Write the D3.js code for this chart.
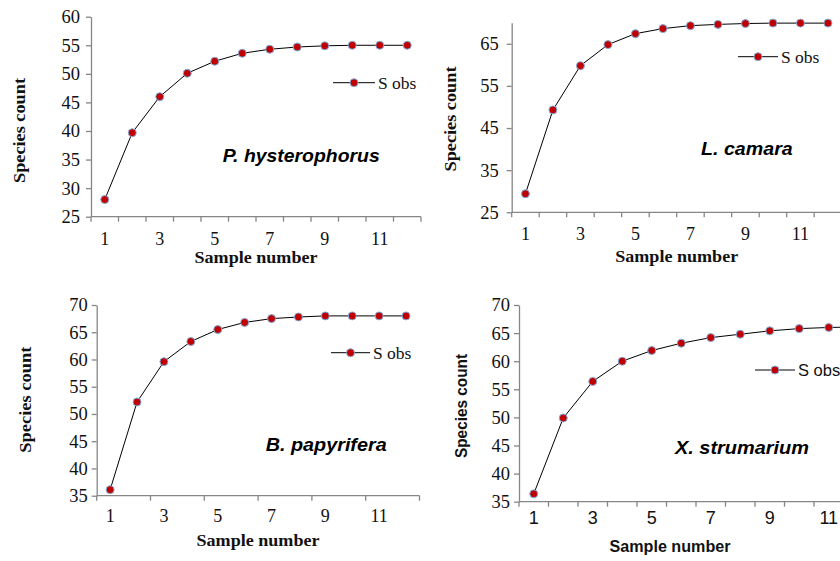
<!DOCTYPE html>
<html><head><meta charset="utf-8">
<script src="https://cdn.jsdelivr.net/npm/d3@7"></script>
<style>body{margin:0;background:#fff}svg{display:block}</style>
</head><body>
<svg id="c" width="840" height="561"></svg>
<script>
const samples = [1,2,3,4,5,6,7,8,9,10,11,12];
const xTickLabels = [1,3,5,7,9,11];
const hysterophorus = [28.0,39.7,46.0,50.1,52.2,53.6,54.3,54.7,54.9,55.0,55.0,55.0];
const camara = [29.4,49.3,59.8,64.8,67.4,68.6,69.3,69.6,69.8,69.9,69.9,69.9];
const papyrifera = [36.1,52.2,59.6,63.3,65.5,66.8,67.5,67.8,68.0,68.0,68.0,68.0];
const strumarium = [36.4,49.9,56.4,60.0,61.9,63.2,64.2,64.8,65.4,65.8,66.0,66.1];
const yTicks1 = [25,30,35,40,45,50,55,60];
const yTicks2 = [25,35,45,55,65];
const yTicks3 = [35,40,45,50,55,60,65,70];
const yTicks4 = [35,40,45,50,55,60,65,70];
const legendLabel = "S obs";
const xTitle = "Sample number";
const yTitle = "Species count";

const svg = d3.select("#c");
const SERIF = "'Liberation Serif','Times New Roman',serif";
const SANS = "'Liberation Sans',Arial,sans-serif";
const AX = "#868686";

function panel(o){
  const g = svg.append("g");
  const x = d3.scaleBand().domain(samples).range([o.x0, o.x0 + o.bw*samples.length]).padding(0);
  const y = d3.scaleLinear().domain(o.ydom).range([o.yb, o.yt]);
  // y axis
  const ya = g.append("g").attr("transform",`translate(${o.x0},0)`)
    .call(d3.axisLeft(y).tickValues(o.yticks).tickSize(5).tickSizeOuter(0).tickPadding(o.ypad));
  ya.select(".domain").attr("stroke",AX).attr("stroke-width",1.3);
  ya.selectAll(".tick line").attr("stroke",AX).attr("stroke-width",1.3);
  ya.selectAll(".tick text").attr("font-family",SERIF).attr("font-size",18.5).attr("fill","#111");
  // x axis line
  g.append("line").attr("x1",o.x0).attr("x2",o.x0+o.bw*samples.length)
    .attr("y1",o.yb).attr("y2",o.yb).attr("stroke",AX).attr("stroke-width",1.3);
  const bounds = samples.map(s=>x(s)).concat([x(12)+x.bandwidth()]);
  const tb = bounds.filter((b,i)=> i % (o.tickEvery||1) === 0);
  g.selectAll(".xt").data(tb).enter().append("line")
    .attr("x1",d=>d).attr("x2",d=>d).attr("y1",o.yb).attr("y2",o.yb+5)
    .attr("stroke",AX).attr("stroke-width",1.3);
  g.selectAll(".xl").data(xTickLabels).enter().append("text")
    .attr("x",d=>x(d)+x.bandwidth()/2).attr("y",o.xlY)
    .attr("text-anchor","middle").attr("font-family",o.xsans?SANS:SERIF)
    .attr("font-size",18).attr("fill","#111").text(d=>d);
  // titles
  g.append("text").attr("x",o.xtX).attr("y",o.xtY).attr("text-anchor","middle")
    .attr("font-family",o.xsans?SANS:SERIF).attr("font-weight","bold")
    .attr("font-size",o.xsans?16:17.5).attr("fill","#111")
    .attr("textLength",o.xtW).attr("lengthAdjust","spacingAndGlyphs").text(xTitle);
  g.append("text").attr("transform",`translate(${o.ytX},${o.ytY}) rotate(-90)`)
    .attr("text-anchor","middle").attr("font-family",o.ysans?SANS:SERIF).attr("font-weight","bold")
    .attr("font-size",17).attr("fill","#111")
    .attr("textLength",o.ytW).attr("lengthAdjust","spacingAndGlyphs").text(yTitle);
  // series
  const pts = samples.map((s,i)=>[x(s)+x.bandwidth()/2, y(o.values[i])]);
  g.append("path").attr("d",d3.line()(pts))
    .attr("fill","none").attr("stroke","#000").attr("stroke-width",1);
  g.selectAll(".pt").data(pts).enter().append("circle")
    .attr("cx",d=>d[0]).attr("cy",d=>d[1]).attr("r",4)
    .attr("fill","#c00000").attr("stroke","#7fb0e0").attr("stroke-width",1);
  // legend
  g.append("line").attr("x1",o.lg[0]).attr("x2",o.lg[1]).attr("y1",o.lg[2]).attr("y2",o.lg[2])
    .attr("stroke","#000").attr("stroke-width",1);
  g.append("circle").attr("cx",(o.lg[0]+o.lg[1])/2).attr("cy",o.lg[2]).attr("r",4)
    .attr("fill","#c00000").attr("stroke","#7fb0e0").attr("stroke-width",1);
  g.append("text").attr("x",o.lg[1]+3).attr("y",o.lg[2]+6).attr("font-family",o.lsans?SANS:SERIF)
    .attr("font-size",o.lsans?16.5:17.5).attr("fill","#111").text(legendLabel);
  // species label
  g.append("text").attr("x",o.sp[0]).attr("y",o.sp[1]).attr("font-family",SANS)
    .attr("font-weight","bold").attr("font-style","italic").attr("font-size",17.5)
    .attr("textLength",o.sp[2]).attr("lengthAdjust","spacingAndGlyphs")
    .attr("fill","#000").text(o.name);
}

panel({values:hysterophorus, name:"P. hysterophorus", x0:91, bw:27.5, ydom:[25,60], yb:216.7, yt:16.7, ypad:6,
  yticks:yTicks1, xlY:244.5, xtX:256, xtY:263, xtW:123, ytX:25, ytY:130.5, ytW:105, lg:[333,375,82.7], sp:[222.7,162,157]});
panel({values:camara, name:"L. camara", x0:511.7, bw:27.5, ydom:[25,70], yb:212.3, yt:22.7, ypad:8,
  yticks:yTicks2, xlY:240, xtX:676.7, xtY:261.5, xtW:123, ytX:456, ytY:119, ytW:105, lg:[738,778,56.7], sp:[701,155,91.7]});
panel({values:papyrifera, name:"B. papyrifera", x0:96.7, bw:26.9, tickEvery:2, ydom:[35,70], yb:495.7, yt:305, ypad:4,
  yticks:yTicks3, xlY:521.5, xtX:258, xtY:545.5, xtW:123, ytX:30.5, ytY:399.7, ytW:106, lg:[331,370,352.7], sp:[265.7,450.7,121]});
panel({values:strumarium, name:"X. strumarium", x0:519, bw:29.5, ydom:[35,70], yb:501.7, yt:305, ypad:4,
  yticks:yTicks4, xlY:523.5, xtX:670, xtY:552, xtW:121, ytX:467, ytY:406, ytW:104, lg:[755,795,370], sp:[675,454,134],
  xsans:true, ysans:true, lsans:true});
</script>
</body></html>
